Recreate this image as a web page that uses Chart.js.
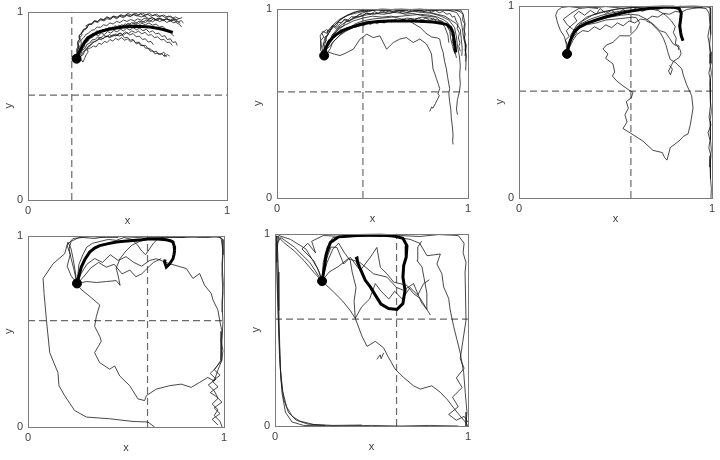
<!DOCTYPE html>
<html>
<head>
<meta charset="utf-8">
<script src="https://cdn.jsdelivr.net/npm/chart.js@4.4.0/dist/chart.umd.min.js"></script>
<style>
html, body { margin: 0; padding: 0; background: #fff; }
#wrap { position: relative; width: 720px; height: 460px; overflow: hidden; }
.panel { position: absolute; }
</style>
</head>
<body>
<div id="wrap"></div>
<script>
// tick labels and axis names shared by all panels
const tickLabels = ['0', '1'];
const axisNames = ['x', 'y'];

// dashed reference lines (x cut differs per panel, y cut nearly constant)
const xCuts = [0.22, 0.45, 0.58, 0.61, 0.63];
const yCuts = [0.557, 0.56, 0.556, 0.556, 0.555];

// common starting point of every trajectory
const starts = [[0.244, 0.75], [0.247, 0.752], [0.249, 0.749], [0.25, 0.75], [0.244, 0.753]];

// thick mean trajectories, flat x,y pairs
const p1Mean = [0.244,0.75, 0.255,0.78, 0.269,0.81, 0.285,0.84, 0.30,0.86, 0.328,0.878, 0.36,0.893, 0.40,0.905, 0.445,0.913, 0.49,0.92, 0.53,0.921, 0.57,0.921, 0.613,0.918, 0.65,0.912, 0.68,0.905, 0.705,0.897, 0.728,0.89];
const p2Mean = [0.247,0.752, 0.255,0.79, 0.27,0.82, 0.29,0.845, 0.313,0.865, 0.345,0.885, 0.383,0.90, 0.43,0.915, 0.47,0.925, 0.53,0.932, 0.591,0.934, 0.65,0.935, 0.713,0.934, 0.77,0.932, 0.817,0.929, 0.86,0.922, 0.887,0.917, 0.91,0.90, 0.922,0.873, 0.93,0.821, 0.936,0.769];
const p3Mean = [0.249,0.749, 0.255,0.78, 0.262,0.807, 0.275,0.84, 0.288,0.865, 0.315,0.89, 0.349,0.908, 0.40,0.925, 0.452,0.942, 0.51,0.956, 0.573,0.97, 0.63,0.98, 0.694,0.987, 0.75,0.991, 0.80,0.993, 0.83,0.985, 0.841,0.962, 0.838,0.93, 0.833,0.894, 0.838,0.86, 0.841,0.843, 0.85,0.817];
const p4Mean = [0.25,0.75, 0.26,0.79, 0.272,0.836, 0.29,0.875, 0.315,0.914, 0.34,0.935, 0.366,0.948, 0.41,0.958, 0.451,0.966, 0.49,0.97, 0.536,0.974, 0.58,0.978, 0.621,0.983, 0.66,0.982, 0.706,0.978, 0.73,0.972, 0.74,0.966, 0.746,0.945, 0.748,0.922, 0.745,0.90, 0.74,0.879, 0.723,0.853, 0.706,0.836, 0.697,0.862, 0.70,0.875];
const p5Mean = [0.244,0.753, 0.256,0.825, 0.266,0.894, 0.287,0.954, 0.33,0.983, 0.425,0.99, 0.546,0.993, 0.615,0.988, 0.663,0.976, 0.684,0.937, 0.68,0.877, 0.667,0.834, 0.663,0.774, 0.674,0.705, 0.663,0.637, 0.632,0.606, 0.589,0.611, 0.549,0.634, 0.52,0.68, 0.494,0.723, 0.468,0.757, 0.446,0.808, 0.428,0.851, 0.425,0.873, 0.416,0.868];

// thin individual trajectories, flat x,y pairs
const p1Paths = [
  [0.244,0.75, 0.251,0.772, 0.247,0.79, 0.256,0.81, 0.252,0.83, 0.263,0.845, 0.259,0.862, 0.272,0.875, 0.268,0.89, 0.283,0.9, 0.295,0.915, 0.291,0.925, 0.308,0.935, 0.322,0.932, 0.335,0.948, 0.351,0.942, 0.366,0.956, 0.382,0.95, 0.397,0.963, 0.413,0.958, 0.428,0.972, 0.446,0.962, 0.462,0.975, 0.48,0.968, 0.497,0.98, 0.513,0.972, 0.53,0.984, 0.548,0.976, 0.565,0.988, 0.583,0.978, 0.6,0.986, 0.618,0.975, 0.636,0.984, 0.655,0.972, 0.672,0.98, 0.69,0.968, 0.708,0.977, 0.725,0.965, 0.742,0.972, 0.758,0.962, 0.775,0.968],
  [0.244,0.75, 0.258,0.762, 0.262,0.785, 0.275,0.8, 0.272,0.822, 0.288,0.835, 0.298,0.852, 0.312,0.86, 0.318,0.878, 0.334,0.882, 0.345,0.898, 0.362,0.892, 0.375,0.905, 0.392,0.9, 0.405,0.916, 0.422,0.91, 0.438,0.925, 0.455,0.918, 0.47,0.93, 0.488,0.924, 0.502,0.938, 0.52,0.93, 0.537,0.945, 0.555,0.936, 0.572,0.95, 0.59,0.942, 0.608,0.956, 0.626,0.946, 0.644,0.958, 0.662,0.947, 0.68,0.956, 0.698,0.942, 0.715,0.951, 0.733,0.94, 0.75,0.948, 0.765,0.938],
  [0.244,0.75, 0.256,0.738, 0.268,0.745, 0.276,0.732, 0.285,0.752, 0.292,0.77, 0.302,0.785, 0.298,0.8, 0.315,0.808, 0.33,0.818, 0.342,0.812, 0.356,0.832, 0.37,0.826, 0.384,0.842, 0.398,0.836, 0.412,0.852, 0.426,0.843, 0.44,0.858, 0.455,0.85, 0.47,0.862, 0.485,0.848, 0.5,0.855, 0.515,0.84, 0.53,0.848, 0.545,0.828, 0.56,0.836, 0.574,0.818, 0.59,0.822, 0.602,0.805, 0.618,0.8, 0.63,0.785, 0.645,0.79, 0.656,0.772, 0.672,0.778, 0.685,0.762, 0.7,0.772, 0.712,0.764],
  [0.244,0.75, 0.25,0.772, 0.262,0.78, 0.27,0.802, 0.282,0.81, 0.288,0.832, 0.302,0.842, 0.31,0.858, 0.326,0.864, 0.34,0.878, 0.354,0.872, 0.368,0.886, 0.384,0.878, 0.4,0.894, 0.416,0.886, 0.432,0.9, 0.448,0.892, 0.464,0.906, 0.48,0.898, 0.496,0.912, 0.512,0.902, 0.528,0.915, 0.545,0.904, 0.562,0.912, 0.578,0.898, 0.594,0.906, 0.61,0.89, 0.626,0.898, 0.642,0.882, 0.658,0.886, 0.672,0.868, 0.688,0.872, 0.7,0.852, 0.716,0.855, 0.728,0.836, 0.742,0.84, 0.75,0.82],
  [0.244,0.75, 0.249,0.778, 0.244,0.8, 0.255,0.818, 0.25,0.84, 0.262,0.855, 0.258,0.875, 0.272,0.888, 0.282,0.905, 0.296,0.912, 0.305,0.93, 0.32,0.936, 0.334,0.952, 0.35,0.948, 0.365,0.962, 0.382,0.956, 0.398,0.97, 0.415,0.962, 0.432,0.976, 0.45,0.97, 0.467,0.984, 0.485,0.976, 0.502,0.99, 0.52,0.982, 0.538,0.992, 0.556,0.984, 0.574,0.993, 0.592,0.982, 0.61,0.99, 0.628,0.978, 0.646,0.986, 0.664,0.974, 0.682,0.982, 0.7,0.97, 0.718,0.976, 0.732,0.962, 0.745,0.955],
  [0.244,0.75, 0.26,0.768, 0.258,0.79, 0.272,0.805, 0.28,0.828, 0.294,0.838, 0.302,0.856, 0.318,0.862, 0.33,0.88, 0.346,0.884, 0.36,0.9, 0.376,0.894, 0.392,0.91, 0.408,0.904, 0.424,0.918, 0.44,0.91, 0.456,0.928, 0.472,0.92, 0.488,0.935, 0.505,0.928, 0.522,0.942, 0.54,0.934, 0.558,0.95, 0.576,0.942, 0.594,0.956, 0.612,0.946, 0.63,0.962, 0.648,0.952, 0.666,0.964, 0.684,0.954, 0.702,0.962, 0.72,0.95, 0.738,0.958, 0.756,0.946, 0.77,0.952, 0.782,0.94],
  [0.244,0.75, 0.252,0.762, 0.266,0.775, 0.272,0.795, 0.288,0.805, 0.295,0.825, 0.31,0.832, 0.322,0.85, 0.338,0.852, 0.35,0.866, 0.366,0.86, 0.38,0.874, 0.396,0.866, 0.41,0.878, 0.426,0.868, 0.442,0.882, 0.458,0.87, 0.472,0.876, 0.486,0.86, 0.5,0.864, 0.514,0.848, 0.528,0.852, 0.54,0.836, 0.555,0.838, 0.566,0.82, 0.58,0.822, 0.59,0.806, 0.605,0.806, 0.614,0.79, 0.628,0.792, 0.638,0.776, 0.652,0.78, 0.668,0.772, 0.682,0.785, 0.69,0.775, 0.684,0.768, 0.698,0.762],
  [0.244,0.75, 0.248,0.772, 0.258,0.79, 0.256,0.812, 0.268,0.828, 0.266,0.848, 0.28,0.862, 0.29,0.878, 0.305,0.886, 0.318,0.9, 0.334,0.904, 0.348,0.918, 0.364,0.916, 0.38,0.93, 0.396,0.926, 0.412,0.94, 0.428,0.934, 0.445,0.948, 0.462,0.942, 0.48,0.955, 0.498,0.948, 0.516,0.958, 0.534,0.95, 0.552,0.962, 0.57,0.954, 0.588,0.966, 0.606,0.958, 0.624,0.968, 0.642,0.958, 0.66,0.966, 0.678,0.955, 0.696,0.962, 0.714,0.95, 0.732,0.956, 0.748,0.94, 0.762,0.932, 0.772,0.918],
  [0.244,0.75, 0.26,0.752, 0.27,0.772, 0.28,0.79, 0.296,0.798, 0.304,0.818, 0.32,0.826, 0.334,0.842, 0.35,0.846, 0.362,0.862, 0.378,0.856, 0.394,0.87, 0.41,0.862, 0.426,0.876, 0.442,0.87, 0.458,0.886, 0.474,0.878, 0.49,0.892, 0.506,0.884, 0.522,0.898, 0.54,0.888, 0.556,0.896, 0.572,0.882, 0.588,0.89, 0.604,0.874, 0.62,0.878, 0.636,0.862, 0.652,0.866, 0.668,0.85, 0.684,0.852, 0.698,0.836, 0.712,0.838, 0.725,0.82],
  [0.244,0.75, 0.247,0.79, 0.252,0.81, 0.249,0.835, 0.258,0.852, 0.256,0.872, 0.27,0.885, 0.278,0.905, 0.294,0.912, 0.304,0.93, 0.32,0.934, 0.332,0.95, 0.348,0.946, 0.364,0.96, 0.38,0.958, 0.396,0.972, 0.412,0.964, 0.428,0.976, 0.445,0.968, 0.462,0.98, 0.48,0.974, 0.498,0.984, 0.516,0.976, 0.534,0.986, 0.552,0.978, 0.57,0.972, 0.588,0.976, 0.606,0.962, 0.624,0.968, 0.642,0.958, 0.66,0.964, 0.678,0.952, 0.696,0.962, 0.714,0.955, 0.732,0.962, 0.748,0.958, 0.762,0.964],
  [0.244,0.75, 0.254,0.765, 0.262,0.79, 0.276,0.812, 0.286,0.834, 0.302,0.85, 0.316,0.87, 0.332,0.876, 0.346,0.892, 0.362,0.888, 0.378,0.904, 0.394,0.9, 0.41,0.914, 0.426,0.906, 0.442,0.92, 0.458,0.912, 0.474,0.926, 0.49,0.918, 0.506,0.93, 0.522,0.922, 0.538,0.935, 0.555,0.926, 0.572,0.938, 0.59,0.93, 0.608,0.94, 0.626,0.928, 0.644,0.934, 0.662,0.918, 0.678,0.922, 0.694,0.904, 0.708,0.898, 0.72,0.882, 0.732,0.872],
  [0.244,0.75, 0.265,0.742, 0.262,0.762, 0.278,0.772, 0.285,0.792, 0.298,0.81, 0.312,0.818, 0.322,0.838, 0.338,0.84, 0.352,0.856, 0.368,0.85, 0.384,0.864, 0.4,0.87, 0.416,0.864, 0.432,0.878, 0.448,0.872, 0.464,0.886, 0.48,0.876, 0.496,0.888, 0.512,0.876, 0.528,0.884, 0.544,0.866, 0.56,0.87, 0.576,0.852, 0.59,0.856, 0.604,0.838, 0.618,0.842, 0.63,0.824]
];
const p2Paths = [
  [0.247,0.752, 0.24,0.80, 0.25,0.84, 0.27,0.87, 0.29,0.90, 0.32,0.93, 0.35,0.955, 0.38,0.97, 0.42,0.985, 0.46,0.99, 0.50,0.995, 0.55,0.99, 0.60,0.995, 0.65,0.99, 0.70,0.995, 0.75,0.99, 0.80,0.995, 0.85,0.99, 0.90,0.995, 0.95,0.99, 0.975,0.97, 0.985,0.92, 0.98,0.86, 0.99,0.80, 0.985,0.75],
  [0.247,0.752, 0.27,0.77, 0.30,0.76, 0.33,0.752, 0.36,0.765, 0.40,0.786, 0.435,0.839, 0.47,0.865, 0.504,0.847, 0.539,0.856, 0.574,0.786, 0.609,0.821, 0.643,0.839, 0.678,0.847, 0.713,0.821, 0.748,0.839, 0.783,0.813, 0.80,0.78, 0.809,0.76, 0.817,0.682, 0.825,0.66, 0.835,0.63, 0.845,0.60, 0.852,0.578, 0.843,0.55, 0.85,0.54, 0.843,0.526, 0.83,0.50, 0.817,0.474, 0.81,0.48, 0.80,0.457],
  [0.247,0.752, 0.26,0.80, 0.28,0.84, 0.31,0.88, 0.35,0.91, 0.40,0.935, 0.45,0.95, 0.50,0.96, 0.55,0.955, 0.60,0.96, 0.65,0.945, 0.70,0.93, 0.75,0.90, 0.78,0.87, 0.81,0.85, 0.84,0.845, 0.852,0.839, 0.86,0.80, 0.87,0.769, 0.878,0.72, 0.887,0.682, 0.895,0.63, 0.904,0.578, 0.90,0.55, 0.904,0.509, 0.91,0.47, 0.913,0.422, 0.918,0.38, 0.922,0.335, 0.92,0.30, 0.922,0.283],
  [0.247,0.752, 0.265,0.81, 0.29,0.86, 0.32,0.90, 0.36,0.93, 0.41,0.95, 0.46,0.965, 0.51,0.975, 0.56,0.97, 0.61,0.98, 0.66,0.975, 0.71,0.985, 0.76,0.98, 0.81,0.975, 0.86,0.96, 0.90,0.94, 0.93,0.90, 0.94,0.85, 0.945,0.80, 0.955,0.75, 0.96,0.70, 0.957,0.65, 0.96,0.60, 0.955,0.56, 0.945,0.52, 0.94,0.47, 0.945,0.44],
  [0.247,0.752, 0.235,0.79, 0.226,0.856, 0.24,0.88, 0.26,0.87, 0.28,0.90, 0.30,0.92, 0.33,0.945, 0.36,0.96, 0.40,0.98, 0.44,0.99, 0.48,0.985, 0.52,0.995, 0.56,0.99, 0.60,0.985, 0.64,0.99, 0.68,0.98, 0.72,0.99, 0.76,0.985, 0.80,0.98, 0.84,0.97, 0.88,0.96, 0.91,0.94, 0.94,0.92, 0.96,0.89, 0.965,0.84, 0.97,0.79, 0.968,0.75],
  [0.247,0.752, 0.255,0.78, 0.275,0.80, 0.30,0.83, 0.33,0.86, 0.36,0.88, 0.40,0.90, 0.44,0.91, 0.48,0.92, 0.52,0.93, 0.56,0.925, 0.60,0.94, 0.64,0.935, 0.68,0.95, 0.72,0.945, 0.76,0.955, 0.80,0.95, 0.84,0.94, 0.87,0.93, 0.89,0.91, 0.905,0.88, 0.91,0.84, 0.92,0.80, 0.925,0.78],
  [0.247,0.752, 0.25,0.81, 0.26,0.85, 0.28,0.885, 0.305,0.915, 0.33,0.94, 0.37,0.965, 0.41,0.975, 0.45,0.985, 0.50,0.99, 0.55,1.0, 0.60,0.995, 0.65,1.0, 0.70,0.995, 0.75,1.0, 0.80,0.99, 0.85,0.995, 0.90,0.99, 0.94,0.98, 0.96,0.95, 0.97,0.90, 0.975,0.86, 0.985,0.81, 0.988,0.76, 0.99,0.72, 0.988,0.674],
  [0.247,0.752, 0.23,0.78, 0.228,0.83, 0.245,0.85, 0.235,0.87, 0.26,0.89, 0.275,0.875, 0.29,0.91, 0.31,0.895, 0.33,0.92, 0.35,0.94, 0.38,0.935, 0.41,0.955, 0.44,0.96, 0.47,0.975, 0.51,0.97, 0.55,0.98, 0.59,0.975, 0.63,0.985, 0.67,0.97, 0.71,0.975, 0.75,0.965, 0.79,0.96, 0.83,0.955, 0.86,0.93, 0.88,0.90, 0.895,0.86, 0.90,0.82],
  [0.247,0.752, 0.26,0.76, 0.28,0.79, 0.29,0.82, 0.31,0.84, 0.34,0.87, 0.37,0.89, 0.41,0.92, 0.45,0.935, 0.50,0.945, 0.55,0.95, 0.60,0.955, 0.65,0.96, 0.70,0.965, 0.75,0.97, 0.80,0.965, 0.84,0.955, 0.875,0.94, 0.90,0.92, 0.915,0.89, 0.925,0.85, 0.93,0.80, 0.935,0.76, 0.94,0.74],
  [0.247,0.752, 0.238,0.775, 0.25,0.79, 0.242,0.815, 0.258,0.83, 0.25,0.85, 0.268,0.862, 0.262,0.882, 0.28,0.89, 0.295,0.91, 0.31,0.905, 0.322,0.928, 0.34,0.925, 0.355,0.945, 0.372,0.94, 0.39,0.958, 0.41,0.952, 0.43,0.97, 0.45,0.964, 0.47,0.978, 0.49,0.97, 0.51,0.984, 0.53,0.976, 0.55,0.988, 0.57,0.98, 0.59,0.99, 0.61,0.982, 0.63,0.992, 0.65,0.984, 0.67,0.994, 0.69,0.986, 0.71,0.995, 0.73,0.986, 0.75,0.994, 0.77,0.985, 0.79,0.992, 0.81,0.982, 0.83,0.99, 0.85,0.978, 0.87,0.985, 0.89,0.97, 0.905,0.975, 0.918,0.955, 0.93,0.96, 0.938,0.935, 0.948,0.92, 0.944,0.895, 0.955,0.87, 0.95,0.845, 0.958,0.82, 0.952,0.8, 0.96,0.775],
  [0.247,0.752, 0.262,0.77, 0.258,0.795, 0.274,0.81, 0.27,0.835, 0.288,0.845, 0.3,0.865, 0.318,0.87, 0.332,0.888, 0.35,0.884, 0.366,0.9, 0.384,0.895, 0.4,0.91, 0.418,0.904, 0.436,0.918, 0.454,0.91, 0.472,0.924, 0.49,0.916, 0.508,0.93, 0.526,0.92, 0.544,0.934, 0.562,0.925, 0.58,0.94, 0.6,0.93, 0.62,0.944, 0.64,0.934, 0.66,0.946, 0.68,0.936, 0.7,0.948, 0.72,0.938, 0.74,0.95, 0.76,0.94, 0.78,0.95, 0.8,0.938, 0.82,0.945, 0.84,0.93, 0.86,0.935, 0.875,0.915, 0.888,0.918, 0.898,0.895, 0.91,0.89, 0.912,0.865, 0.922,0.85, 0.918,0.825, 0.928,0.8, 0.925,0.78, 0.932,0.76],
  [0.247,0.752, 0.252,0.78, 0.266,0.8, 0.262,0.825, 0.28,0.84, 0.292,0.865, 0.31,0.875, 0.326,0.9, 0.344,0.905, 0.36,0.93, 0.38,0.935, 0.4,0.955, 0.42,0.96, 0.44,0.975, 0.46,0.98, 0.48,0.992, 0.5,0.99, 0.54,0.996, 0.58,0.99, 0.62,0.997, 0.66,0.99, 0.7,0.996, 0.74,0.99, 0.78,0.997, 0.82,0.99, 0.86,0.996, 0.9,0.99, 0.93,0.995, 0.95,0.985, 0.965,0.99, 0.975,0.97, 0.972,0.94, 0.982,0.92, 0.978,0.89, 0.986,0.865, 0.98,0.84, 0.99,0.81, 0.985,0.78, 0.992,0.75, 0.988,0.72]
];
const p3Paths = [
  [0.249,0.749, 0.26,0.80, 0.28,0.85, 0.31,0.88, 0.35,0.90, 0.40,0.91, 0.45,0.925, 0.50,0.93, 0.55,0.935, 0.59,0.94, 0.608,0.937, 0.625,0.911, 0.608,0.877, 0.573,0.843, 0.522,0.843, 0.487,0.809, 0.453,0.795, 0.435,0.774, 0.461,0.749, 0.449,0.726, 0.487,0.697, 0.496,0.655, 0.484,0.634, 0.508,0.607, 0.539,0.583, 0.57,0.561, 0.591,0.549, 0.582,0.521, 0.556,0.501, 0.567,0.467, 0.549,0.432, 0.56,0.395, 0.539,0.361, 0.577,0.338, 0.642,0.296, 0.694,0.248, 0.743,0.236, 0.755,0.21, 0.767,0.197, 0.784,0.262, 0.829,0.296, 0.853,0.321, 0.876,0.333, 0.888,0.381, 0.902,0.467, 0.895,0.532, 0.87,0.586, 0.853,0.634, 0.843,0.672, 0.812,0.703, 0.784,0.72, 0.772,0.757, 0.763,0.791, 0.75,0.826, 0.732,0.86, 0.712,0.88, 0.686,0.908, 0.66,0.92],
  [0.249,0.749, 0.27,0.85, 0.30,0.90, 0.35,0.94, 0.42,0.965, 0.50,0.98, 0.58,0.99, 0.66,0.995, 0.74,1.0, 0.82,0.995, 0.90,1.0, 0.96,0.995, 0.99,0.99, 0.995,0.95, 0.99,0.90, 0.995,0.85, 0.988,0.80, 0.995,0.75, 0.99,0.70, 0.997,0.65, 0.99,0.60, 0.995,0.55, 0.99,0.50, 0.997,0.45, 0.99,0.40, 0.995,0.35, 0.99,0.30, 0.997,0.25, 0.99,0.20, 0.995,0.15, 0.99,0.10, 0.997,0.05, 0.995,0.0],
  [0.249,0.749, 0.27,0.83, 0.29,0.88, 0.33,0.92, 0.38,0.95, 0.45,0.97, 0.52,0.985, 0.60,0.99, 0.68,0.995, 0.76,0.99, 0.84,0.995, 0.92,0.99, 0.97,0.985, 0.985,0.96, 0.99,0.90, 0.979,0.84, 0.985,0.81, 0.99,0.76, 0.995,0.70, 0.984,0.65, 0.99,0.62, 0.995,0.55, 0.99,0.48, 0.985,0.42, 0.995,0.38, 0.98,0.34, 0.99,0.30, 0.984,0.26, 0.995,0.22, 0.99,0.16],
  [0.249,0.749, 0.27,0.84, 0.30,0.88, 0.35,0.905, 0.41,0.925, 0.47,0.94, 0.53,0.95, 0.58,0.955, 0.62,0.95, 0.66,0.93, 0.70,0.90, 0.73,0.87, 0.76,0.86, 0.78,0.83, 0.80,0.80, 0.82,0.79, 0.835,0.77, 0.84,0.75, 0.83,0.73, 0.80,0.71, 0.79,0.69, 0.775,0.66, 0.785,0.64, 0.795,0.67, 0.78,0.69],
  [0.249,0.749, 0.265,0.82, 0.285,0.87, 0.32,0.905, 0.37,0.93, 0.43,0.95, 0.49,0.965, 0.55,0.975, 0.61,0.98, 0.67,0.985, 0.72,0.975, 0.76,0.95, 0.79,0.92, 0.81,0.89, 0.80,0.86, 0.815,0.83, 0.81,0.80, 0.83,0.79, 0.825,0.77],
  [0.249,0.749, 0.245,0.80, 0.235,0.84, 0.215,0.87, 0.20,0.91, 0.19,0.95, 0.20,0.975, 0.22,0.99, 0.26,0.995, 0.30,0.99, 0.35,0.995, 0.40,0.99, 0.45,0.995, 0.50,0.99, 0.55,0.995, 0.60,0.99, 0.65,0.995, 0.70,0.995, 0.75,0.99, 0.80,0.995, 0.85,0.99, 0.90,0.995, 0.95,0.99],
  [0.249,0.749, 0.255,0.79, 0.24,0.82, 0.26,0.84, 0.245,0.87, 0.27,0.895, 0.30,0.92, 0.285,0.945, 0.31,0.97, 0.34,0.95, 0.37,0.975, 0.40,0.955, 0.42,0.985, 0.45,0.96, 0.48,0.975, 0.51,0.955, 0.54,0.98, 0.57,0.96, 0.60,0.985, 0.64,0.97, 0.68,0.99, 0.72,0.98, 0.76,0.995, 0.80,0.985, 0.84,1.0],
  [0.249,0.749, 0.26,0.78, 0.28,0.82, 0.30,0.85, 0.33,0.87, 0.36,0.865, 0.39,0.89, 0.42,0.875, 0.45,0.90, 0.48,0.885, 0.51,0.91, 0.54,0.895, 0.57,0.92, 0.60,0.91, 0.63,0.93, 0.66,0.925, 0.69,0.945, 0.72,0.94, 0.75,0.96, 0.78,0.955, 0.81,0.97, 0.84,0.965, 0.87,0.98, 0.90,0.985, 0.94,0.99, 0.97,0.995],
  [0.249,0.749, 0.27,0.82, 0.30,0.86, 0.25,0.90, 0.23,0.93, 0.27,0.96, 0.31,0.985, 0.36,0.99, 0.41,0.985]
];
const p4Paths = [
  [0.25,0.75, 0.24,0.82, 0.23,0.88, 0.22,0.93, 0.204,0.966, 0.187,0.905, 0.128,0.853, 0.077,0.776, 0.082,0.698, 0.094,0.56, 0.111,0.388, 0.153,0.284, 0.158,0.216, 0.187,0.164, 0.238,0.086, 0.298,0.052, 0.417,0.043, 0.536,0.029, 0.612,0.026, 0.646,0.0],
  [0.25,0.75, 0.27,0.72, 0.306,0.69, 0.366,0.638, 0.349,0.578, 0.34,0.526, 0.366,0.474, 0.374,0.448, 0.34,0.388, 0.366,0.336, 0.417,0.302, 0.442,0.319, 0.468,0.267, 0.519,0.216, 0.561,0.147, 0.595,0.138, 0.604,0.164, 0.655,0.198, 0.723,0.216, 0.782,0.224, 0.833,0.207, 0.876,0.233, 0.918,0.259, 0.95,0.24, 0.97,0.30, 0.99,0.35],
  [0.25,0.75, 0.27,0.80, 0.30,0.85, 0.34,0.88, 0.38,0.86, 0.42,0.90, 0.46,0.87, 0.50,0.89, 0.54,0.86, 0.58,0.84, 0.62,0.87, 0.655,0.879, 0.723,0.853, 0.808,0.828, 0.842,0.776, 0.876,0.802, 0.901,0.741, 0.935,0.698, 0.944,0.664, 0.969,0.612, 0.981,0.543, 0.99,0.50, 0.985,0.45, 0.995,0.40, 0.99,0.35, 0.95,0.30, 0.98,0.27, 0.94,0.24, 0.97,0.21, 0.93,0.18, 0.96,0.16, 0.99,0.13, 0.95,0.10, 0.98,0.07, 0.94,0.04, 0.97,0.01],
  [0.25,0.75, 0.30,0.76, 0.35,0.755, 0.40,0.76, 0.45,0.765, 0.47,0.74, 0.46,0.79, 0.45,0.83, 0.47,0.88, 0.50,0.92, 0.53,0.95, 0.57,0.97, 0.62,0.985, 0.68,0.99, 0.74,0.995, 0.80,0.99, 0.86,0.995, 0.92,0.99, 0.97,0.995, 0.995,0.98, 0.995,0.90, 0.99,0.80, 0.995,0.70, 0.99,0.60],
  [0.25,0.75, 0.235,0.82, 0.22,0.88, 0.21,0.93, 0.22,0.97, 0.26,0.99, 0.32,0.995, 0.40,0.99, 0.48,0.995, 0.56,0.99, 0.64,0.995, 0.72,0.99, 0.80,0.995, 0.88,0.99, 0.94,0.995, 0.985,0.99, 0.995,0.92, 0.99,0.85, 0.997,0.75, 0.99,0.65, 0.995,0.55, 0.99,0.45, 0.985,0.35, 0.96,0.31, 0.93,0.28, 0.96,0.25, 0.92,0.22, 0.95,0.19, 0.97,0.15, 0.94,0.12, 0.97,0.09, 0.95,0.06, 0.98,0.03, 0.99,0.0],
  [0.25,0.75, 0.255,0.80, 0.26,0.85, 0.28,0.90, 0.30,0.94, 0.33,0.96, 0.37,0.97, 0.41,0.98, 0.45,0.975, 0.49,0.99, 0.53,0.98, 0.56,0.95, 0.58,0.92, 0.60,0.90, 0.62,0.93, 0.64,0.96, 0.66,0.98, 0.70,0.995, 0.75,0.99, 0.80,0.99],
  [0.25,0.75, 0.28,0.78, 0.32,0.83, 0.36,0.86, 0.40,0.835, 0.44,0.85, 0.48,0.80, 0.52,0.82, 0.55,0.785, 0.58,0.80, 0.60,0.82, 0.62,0.84, 0.64,0.86, 0.68,0.88],
  [0.25,0.75, 0.22,0.79, 0.20,0.84, 0.215,0.90, 0.20,0.95, 0.23,0.985, 0.28,0.99, 0.34,0.985, 0.40,0.995, 0.46,0.99]
];
const p5Paths = [
  [0.244,0.753, 0.20,0.80, 0.15,0.86, 0.10,0.91, 0.05,0.95, 0.02,0.98, 0.007,0.988, 0.01,0.85, 0.014,0.688, 0.018,0.52, 0.024,0.346, 0.036,0.175, 0.054,0.072, 0.088,0.021, 0.149,0.003, 0.339,0.0, 0.50,0.003, 0.65,0.0, 0.80,0.003, 0.95,0.0],
  [0.244,0.753, 0.18,0.85, 0.10,0.93, 0.03,0.98, 0.012,0.95, 0.018,0.80, 0.02,0.60, 0.025,0.40, 0.03,0.25, 0.045,0.14, 0.07,0.07, 0.11,0.03, 0.17,0.01, 0.26,0.003],
  [0.244,0.753, 0.22,0.82, 0.16,0.92, 0.08,0.97, 0.02,0.99, 0.008,0.90, 0.012,0.70, 0.02,0.50, 0.028,0.30, 0.04,0.18, 0.06,0.10, 0.09,0.05, 0.13,0.025, 0.20,0.008, 0.30,0.003, 0.45,0.005],
  [0.244,0.753, 0.27,0.85, 0.30,0.92, 0.33,0.95, 0.36,0.90, 0.39,0.86, 0.40,0.80, 0.42,0.72, 0.41,0.65, 0.416,0.56, 0.451,0.466, 0.477,0.414, 0.52,0.44, 0.563,0.406, 0.58,0.372, 0.623,0.295, 0.667,0.252, 0.718,0.209, 0.753,0.192, 0.813,0.209, 0.857,0.175, 0.891,0.14, 0.943,0.072, 0.986,0.021, 1.0,0.0],
  [0.244,0.753, 0.26,0.85, 0.29,0.93, 0.321,0.928, 0.356,0.842, 0.39,0.877, 0.442,0.808, 0.494,0.877, 0.528,0.928, 0.546,0.825, 0.58,0.791, 0.615,0.748, 0.684,0.731, 0.718,0.688, 0.753,0.663, 0.779,0.62, 0.805,0.577],
  [0.244,0.753, 0.25,0.85, 0.27,0.93, 0.30,0.98, 0.40,0.985, 0.50,0.99, 0.60,0.985, 0.70,0.97, 0.75,0.95, 0.788,0.885, 0.857,0.894, 0.839,0.842, 0.865,0.791, 0.874,0.723, 0.9,0.663, 0.908,0.603, 0.926,0.517, 0.943,0.449, 0.96,0.38, 0.978,0.277, 0.986,0.175, 0.995,0.072, 0.99,0.0],
  [0.244,0.753, 0.30,0.70, 0.35,0.65, 0.39,0.60, 0.416,0.56, 0.45,0.62, 0.49,0.66, 0.52,0.74, 0.55,0.70, 0.59,0.66, 0.62,0.70, 0.66,0.66, 0.70,0.72, 0.74,0.68, 0.77,0.74, 0.80,0.76],
  [0.244,0.753, 0.23,0.80, 0.20,0.86, 0.14,0.92, 0.17,0.95, 0.21,0.90, 0.19,0.96, 0.25,0.99, 0.35,0.985, 0.45,0.99, 0.55,0.985, 0.65,0.99, 0.75,0.985, 0.85,0.995, 0.95,0.99, 0.98,0.95, 0.975,0.90, 0.99,0.85, 0.985,0.80, 0.99,0.55, 0.96,0.35, 0.98,0.30, 0.94,0.25, 0.97,0.20, 0.92,0.15, 0.95,0.10, 0.90,0.06, 0.94,0.03, 0.98,0.05, 1.0,0.02],
  [0.244,0.753, 0.28,0.80, 0.33,0.83, 0.38,0.87, 0.44,0.85, 0.511,0.791, 0.58,0.774, 0.63,0.72, 0.666,0.705, 0.718,0.74, 0.76,0.64, 0.787,0.606, 0.787,0.69, 0.762,0.826, 0.736,0.86, 0.74,0.93, 0.76,0.96],
  [0.528,0.346, 0.545,0.37, 0.55,0.35, 0.563,0.38]
];

const panels = [
  { box: [28, 9, 227, 200], mean: p1Mean, paths: p1Paths },
  { box: [277, 6, 468, 198], mean: p2Mean, paths: p2Paths },
  { box: [519, 3, 712, 198], mean: p3Mean, paths: p3Paths },
  { box: [28, 233, 224, 427], mean: p4Mean, paths: p4Paths },
  { box: [275, 231, 468, 426], mean: p5Mean, paths: p5Paths }
];

const textColor = '#404040';
const font = { family: 'Liberation Sans, Arial, sans-serif', size: 11 };

function toXY(flat) {
  const pts = [];
  for (let i = 0; i < flat.length; i += 2) pts.push({ x: flat[i], y: flat[i + 1] });
  return pts;
}

// frame around the plot area
const framePlugin = {
  id: 'frame',
  afterDatasetsDraw(chart) {
    const { ctx, chartArea: a } = chart;
    ctx.save();
    ctx.strokeStyle = '#7a7a7a';
    ctx.lineWidth = 1;
    ctx.strokeRect(Math.round(a.left) + 0.5, Math.round(a.top) + 0.5,
      Math.round(a.right - a.left), Math.round(a.bottom - a.top));
    ctx.restore();
  }
};

const wrap = document.getElementById('wrap');
const padL = 28, padT = 9, padR = 7, padB = 30;

panels.forEach((p, i) => {
  const [l, t, r, b] = p.box;
  const w = r - l + padL + padR, h = b - t + padT + padB;
  const holder = document.createElement('div');
  holder.className = 'panel';
  holder.style.left = (l - padL) + 'px';
  holder.style.top = (t - padT) + 'px';
  holder.style.width = w + 'px';
  holder.style.height = h + 'px';
  const cv = document.createElement('canvas');
  cv.width = w; cv.height = h;
  holder.appendChild(cv);
  wrap.appendChild(holder);

  const datasets = [
    { data: toXY(p.mean), showLine: true, borderColor: '#000', borderWidth: 3, pointRadius: 0, order: 0 },
    { data: [{ x: starts[i][0], y: starts[i][1] }], showLine: false, pointRadius: 4.5,
      pointBackgroundColor: '#000', pointBorderColor: '#000', order: 0 }
  ];
  p.paths.forEach(path => {
    datasets.push({ data: toXY(path), showLine: true, borderColor: '#1a1a1a', borderWidth: 0.8, pointRadius: 0, order: 2 });
  });
  datasets.push({ data: [{ x: xCuts[i], y: 0 }, { x: xCuts[i], y: 1 }], showLine: true,
    borderColor: '#6a6a6a', borderWidth: 1.2, borderDash: [7, 4], pointRadius: 0, order: 3 });
  datasets.push({ data: [{ x: 0, y: yCuts[i] }, { x: 1, y: yCuts[i] }], showLine: true,
    borderColor: '#6a6a6a', borderWidth: 1.2, borderDash: [7, 4], pointRadius: 0, order: 3 });

  new Chart(cv, {
    type: 'scatter',
    data: { datasets: datasets },
    options: {
      responsive: false,
      animation: false,
      devicePixelRatio: 1,
      events: [],
      layout: { padding: { top: padT, right: padR, left: 0, bottom: 0 } },
      plugins: { legend: { display: false }, tooltip: { enabled: false } },
      scales: {
        x: {
          type: 'linear', min: 0, max: 1,
          grid: { display: false, drawTicks: false },
          border: { display: false },
          afterFit: s => { s.height = padB; },
          ticks: { stepSize: 1, color: textColor, font: font, padding: 4, maxRotation: 0,
            callback: v => tickLabels[v] },
          title: { display: true, text: axisNames[0], color: textColor, font: font, padding: 2 }
        },
        y: {
          type: 'linear', min: 0, max: 1,
          grid: { display: false, drawTicks: false },
          border: { display: false },
          afterFit: s => { s.width = padL; },
          ticks: { stepSize: 1, color: textColor, font: font, padding: 5,
            callback: v => tickLabels[v] },
          title: { display: true, text: axisNames[1], color: textColor, font: font, padding: 2 }
        }
      }
    },
    plugins: [framePlugin]
  });
});
</script>
</body>
</html>
